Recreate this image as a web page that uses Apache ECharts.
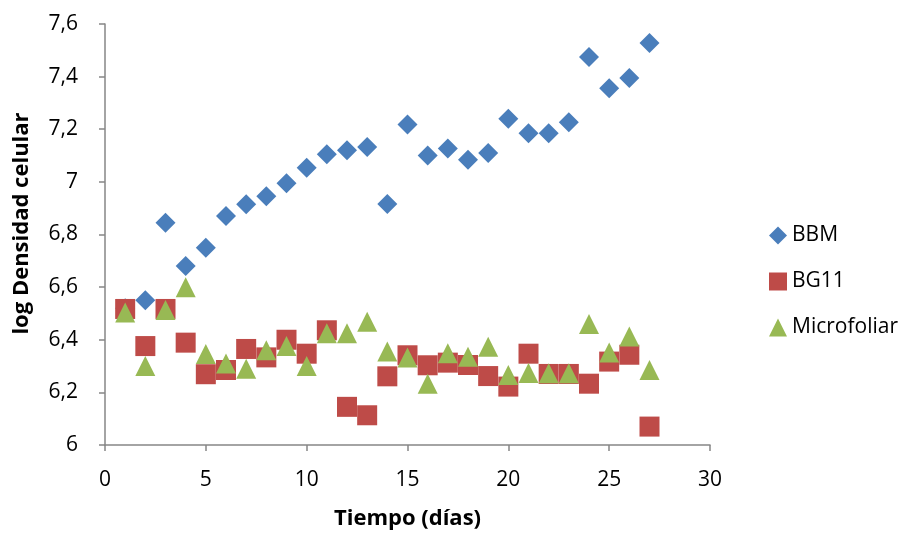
<!DOCTYPE html>
<html>
<head>
<meta charset="utf-8">
<title>log Densidad celular</title>
<script src="https://cdn.jsdelivr.net/npm/echarts@6/dist/echarts.min.js"></script>
<style>
  html, body { margin: 0; padding: 0; background: #fff; }
  #chart { width: 908px; height: 533px; }
</style>
</head>
<body>
<div id="chart"></div>
<script>
  // dias de cultivo
  var dias = [1, 2, 3, 4, 5, 6, 7, 8, 9, 10, 11, 12, 13, 14, 15, 16, 17, 18, 19, 20, 21, 22, 23, 24, 25, 26, 27];

  var bbm = [6.52, 6.55, 6.845, 6.68, 6.75, 6.87, 6.915, 6.945, 6.995, 7.054, 7.105, 7.12, 7.133, 6.916,
             7.218, 7.10, 7.127, 7.084, 7.11, 7.24, 7.185, 7.185, 7.227, 7.475, 7.356, 7.395, 7.528];
  var bg11 = [6.517, 6.376, 6.517, 6.389, 6.269, 6.285, 6.365, 6.333, 6.40, 6.347, 6.436, 6.145, 6.113, 6.261,
              6.341, 6.303, 6.313, 6.304, 6.262, 6.222, 6.347, 6.27, 6.27, 6.233, 6.317, 6.343, 6.07];
  var microfoliar = [6.504, 6.30, 6.513, 6.60, 6.346, 6.31, 6.29, 6.36, 6.376, 6.30, 6.425, 6.425, 6.468, 6.355,
                     6.333, 6.233, 6.349, 6.335, 6.373, 6.266, 6.274, 6.273, 6.273, 6.46, 6.352, 6.412, 6.285];

  function pares(ys) {
    var out = [];
    for (var i = 0; i < dias.length; i++) {
      out.push([dias[i], ys[i]]);
    }
    return out;
  }

  var fuente = '"Open Sans", Lato, sans-serif';
  var gris = '#868686';

  var chart = echarts.init(document.getElementById('chart'));

  var option = {
    animation: false,
    textStyle: { fontFamily: fuente },
    grid: { left: 105, right: 198, top: 24, bottom: 88, outerBoundsMode: 'none' },
    legend: {
      orient: 'vertical',
      left: 764,
      top: 220,
      itemGap: 25,
      itemWidth: 18,
      itemHeight: 18,
      textStyle: { fontSize: 21, color: '#000', fontFamily: fuente },
      data: [
        { name: 'BBM', icon: 'diamond' },
        { name: 'BG11', icon: 'rect' },
        { name: 'Microfoliar', icon: 'triangle' }
      ]
    },
    xAxis: {
      type: 'value',
      min: 0,
      max: 30,
      interval: 5,
      name: 'Tiempo (días)',
      nameLocation: 'middle',
      nameGap: 63,
      nameTextStyle: { fontSize: 22, fontWeight: 'bold', color: '#000' },
      axisLine: { show: true, lineStyle: { color: gris, width: 1.5 } },
      axisTick: { show: true, length: 6, lineStyle: { color: gris, width: 1.5 } },
      axisLabel: { fontSize: 21, color: '#000', margin: 25 },
      splitLine: { show: false }
    },
    yAxis: {
      type: 'value',
      min: 6,
      max: 7.6,
      interval: 0.2,
      name: 'log Densidad celular',
      nameLocation: 'middle',
      nameGap: 72,
      nameTextStyle: { fontSize: 22, fontWeight: 'bold', color: '#000', padding: [0, 0, 0, 22] },
      axisLine: { show: true, lineStyle: { color: gris, width: 1.5 } },
      axisTick: { show: true, length: 6, lineStyle: { color: gris, width: 1.5 } },
      axisLabel: {
        fontSize: 21,
        color: '#000',
        margin: 27,
        formatter: function (v) {
          return (Math.round(v * 10) / 10).toString().replace('.', ',');
        }
      },
      splitLine: { show: false }
    },
    series: [
      {
        name: 'BBM',
        type: 'scatter',
        symbol: 'diamond',
        symbolSize: [20, 20],
        itemStyle: { color: '#4A7EBB', opacity: 1 },
        data: pares(bbm)
      },
      {
        name: 'BG11',
        type: 'scatter',
        symbol: 'rect',
        symbolSize: 20,
        itemStyle: { color: '#BE4B48', opacity: 1 },
        data: pares(bg11)
      },
      {
        name: 'Microfoliar',
        type: 'scatter',
        symbol: 'triangle',
        symbolSize: [20, 20],
        itemStyle: { color: '#98B954', opacity: 1 },
        data: pares(microfoliar)
      }
    ]
  };

  chart.setOption(option);
</script>
</body>
</html>
